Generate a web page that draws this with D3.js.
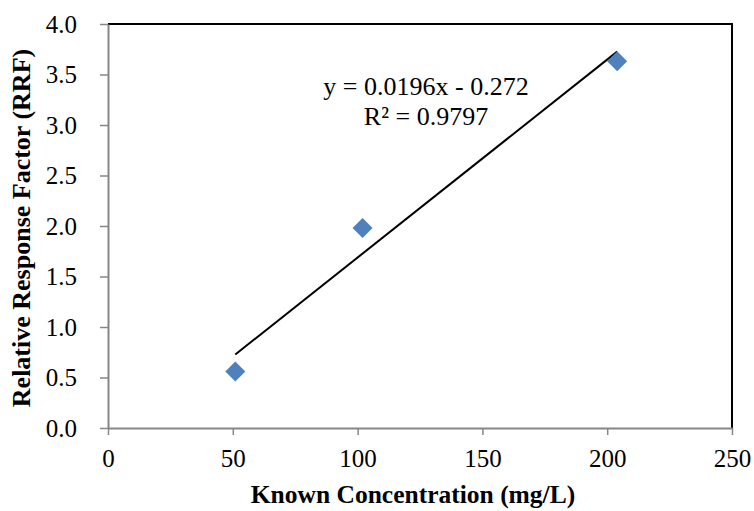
<!DOCTYPE html>
<html>
<head>
<meta charset="utf-8">
<script src="https://cdn.jsdelivr.net/npm/d3@7"></script>
<style>
  body { margin: 0; background: #fff; }
</style>
</head>
<body>
<div id="chart"></div>
<script>
// data
const concentration = [51, 102, 204];      // mg/L
const rrf = [0.56, 1.98, 3.63];            // relative response factor
const xTicks = [0, 50, 100, 150, 200, 250];
const yTicks = [0, 0.5, 1.0, 1.5, 2.0, 2.5, 3.0, 3.5, 4.0];
const slope = 0.0196;
const intercept = -0.272;
const equationLines = ['y = 0.0196x - 0.272', 'R\u00b2 = 0.9797'];

const WIDTH = 754, HEIGHT = 511;
const M = { left: 108, right: 22, top: 24, bottom: 83 };
const FONT = "'Liberation Serif', 'Times New Roman', Times, serif";

const svg = d3.select('#chart').append('svg')
  .attr('width', WIDTH)
  .attr('height', HEIGHT)
  .style('font-family', FONT);

const x = d3.scaleLinear().domain([0, 250]).range([M.left, WIDTH - M.right]);
const y = d3.scaleLinear().domain([0, 4]).range([HEIGHT - M.bottom, M.top]);

// top and right border of plot area
svg.append('path')
  .attr('d', 'M' + x(0) + ',' + y(4) + 'H' + x(250) + 'V' + y(0))
  .attr('fill', 'none')
  .attr('stroke', '#000')
  .attr('stroke-width', 2);

// axes
const xAxis = svg.append('g')
  .attr('transform', 'translate(0,' + y(0) + ')')
  .call(d3.axisBottom(x).tickValues(xTicks).tickSize(7).tickSizeOuter(0).tickPadding(14));
const yAxis = svg.append('g')
  .attr('transform', 'translate(' + x(0) + ',0)')
  .call(d3.axisLeft(y).tickValues(yTicks).tickFormat(d3.format('.1f')).tickSize(8).tickSizeOuter(0).tickPadding(23));

[xAxis, yAxis].forEach(g => {
  g.attr('font-family', null).attr('font-size', null);
  g.select('.domain').attr('stroke', '#868686').attr('stroke-width', 2);
  g.selectAll('.tick line').attr('stroke', '#868686').attr('stroke-width', 1.5);
  g.selectAll('.tick text')
    .style('font-family', FONT)
    .style('font-size', '25px')
    .attr('fill', '#000');
});

// trendline over the data range
const xr = d3.extent(concentration);
svg.append('line')
  .attr('x1', x(xr[0])).attr('y1', y(slope * xr[0] + intercept))
  .attr('x2', x(xr[1])).attr('y2', y(slope * xr[1] + intercept))
  .attr('stroke', '#000')
  .attr('stroke-width', 2);

// points
svg.selectAll('.pt')
  .data(concentration.map((c, i) => [c, rrf[i]]))
  .enter()
  .append('path')
  .attr('class', 'pt')
  .attr('d', d3.symbol().type(d3.symbolSquare).size(200))
  .attr('transform', d => 'translate(' + x(d[0]) + ',' + y(d[1]) + ') rotate(45)')
  .attr('fill', '#4F81BD');

// equation label
svg.append('text')
  .attr('x', 426)
  .attr('y', 95)
  .attr('text-anchor', 'middle')
  .style('font-family', FONT)
  .style('font-size', '26px')
  .selectAll('tspan')
  .data(equationLines)
  .enter()
  .append('tspan')
  .attr('x', 426)
  .attr('dy', (d, i) => i === 0 ? 0 : 30)
  .text(d => d);

// axis titles
svg.append('text')
  .attr('x', 413)
  .attr('y', 503)
  .attr('text-anchor', 'middle')
  .style('font-family', FONT)
  .style('font-size', '25.5px')
  .style('font-weight', 'bold')
  .text('Known Concentration (mg/L)');

svg.append('text')
  .attr('transform', 'translate(30,228) rotate(-90)')
  .attr('text-anchor', 'middle')
  .style('font-family', FONT)
  .style('font-size', '26px')
  .style('font-weight', 'bold')
  .text('Relative Response Factor (RRF)');
</script>
</body>
</html>
